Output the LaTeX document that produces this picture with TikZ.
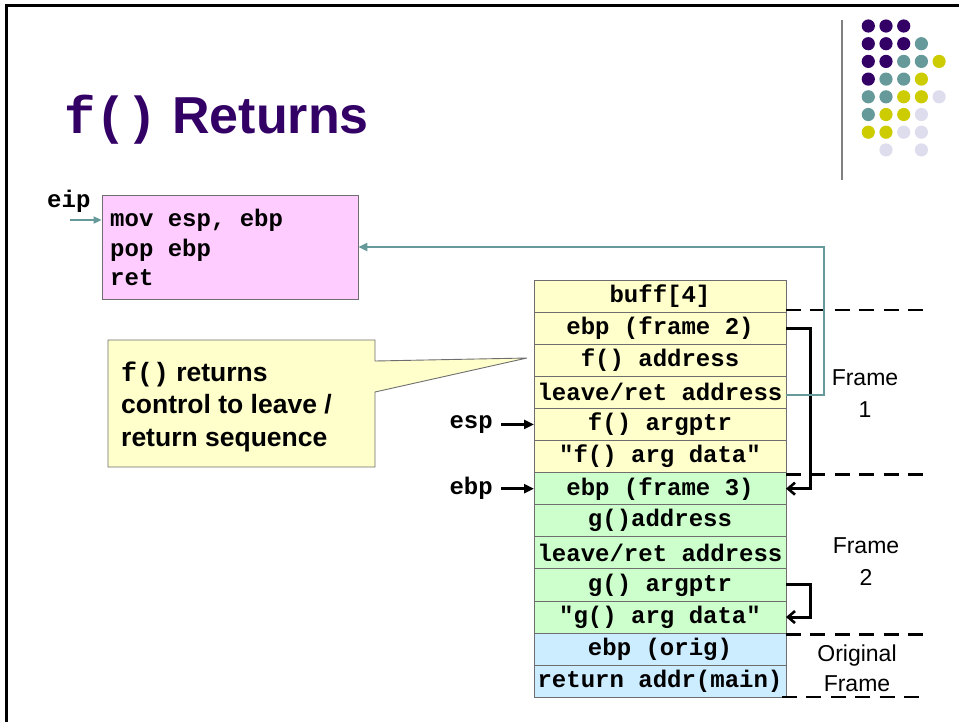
\documentclass[tikz,border=0pt]{standalone}
\usepackage{fontspec}
\setmainfont{Liberation Sans}
\setmonofont{Liberation Mono}
\usetikzlibrary{arrows.meta}
\definecolor{titlepurple}{HTML}{330066}
\definecolor{dotteal}{HTML}{669999}
\definecolor{dotyellow}{HTML}{CCCC00}
\definecolor{dotlav}{HTML}{DDDDEE}
\definecolor{codepink}{HTML}{FFCCFF}
\definecolor{rowyellow}{HTML}{FFFFCC}
\definecolor{rowgreen}{HTML}{CCFFCC}
\definecolor{rowblue}{HTML}{CCECFF}
\definecolor{edgegray}{HTML}{6E6E6E}
\begin{document}
\begin{tikzpicture}[x=1pt,y=-1pt,
  cell/.style={draw=edgegray, line width=0.9pt, minimum width=252pt, minimum height=32.1pt,
    inner sep=0pt, outer sep=0pt, font=\fontsize{24}{24}\selectfont\ttfamily\bfseries},
  lbl/.style={inner sep=0pt, font=\fontsize{24}{24}\selectfont\ttfamily\bfseries},
  framelbl/.style={align=center, inner sep=0pt, font=\fontsize{23}{32}\selectfont},
  notetxt/.style={anchor=base west, inner sep=0pt, font=\fontsize{26.5}{26.5}\selectfont\bfseries},
  blkarrow/.style={line width=3pt, -{Straight Barb[length=7pt,width=12pt,line width=2.6pt]}},
  ptrarrow/.style={line width=3pt, -{Triangle[length=10pt,width=9pt]}},
  tealarrow/.style={draw=dotteal, line width=2.2pt, -{Triangle[length=9pt,width=8pt]}},
  boundary/.style={line width=2.8pt, dash pattern=on 15pt off 9.4pt}
]
\useasboundingbox (0,0) rectangle (959,721);

% slide frame
\draw[line width=3pt] (6.5,730) -- (6.5,5.5) -- (970,5.5);

% decorative dot grid and rule
\draw[line width=2pt, gray] (841.5,20) -- (841.5,180);
\foreach \c/\r in {0/0,1/0,2/0,0/1,1/1,2/1,0/2,1/2,0/3}
  \fill[titlepurple] (868.3+17.7*\c, 26+17.7*\r) circle (6.6);
\foreach \c/\r in {3/1,2/2,3/2,1/3,2/3,0/4,1/4,0/5}
  \fill[dotteal] (868.3+17.7*\c, 26+17.7*\r) circle (6.6);
\foreach \c/\r in {4/2,3/3,2/4,3/4,1/5,2/5,0/6,1/6}
  \fill[dotyellow] (868.3+17.7*\c, 26+17.7*\r) circle (6.6);
\foreach \c/\r in {4/4,3/5,2/6,3/6,1/7,3/7}
  \fill[dotlav] (868.3+17.7*\c, 26+17.7*\r) circle (6.6);

% title
\node[anchor=base west, inner sep=0pt, text=titlepurple, font=\fontsize{52}{52}\selectfont\bfseries]
  (title) at (64,133) {{\ttfamily f()}\ Returns};

% code box
\node[draw=edgegray, fill=codepink, line width=0.9pt, minimum width=256pt, minimum height=104pt,
  inner sep=0pt] (code) at (230,247) {};
\node[anchor=north west, align=left, inner sep=0pt,
  font=\fontsize{24}{29.5}\selectfont\ttfamily\bfseries] (codetxt) at (110,209)
  {mov esp, ebp\\pop ebp\\ret};
\node[lbl, anchor=base west] (eip) at (47,207) {eip};
\coordinate (eipfrom) at (70,220);
\draw[draw=dotteal, line width=2.2pt, -{Triangle[length=8pt,width=7pt]}] (eipfrom) -- (code.west |- eipfrom);

% stack, top to bottom
\node[cell, fill=rowyellow] (r1)  at (660,296.05) {buff[4]};
\node[cell, fill=rowyellow] (r2)  at (660,328.15) {ebp (frame 2)};
\node[cell, fill=rowyellow] (r3)  at (660,360.25) {f() address};
\node[cell, fill=rowyellow] (r4)  at (660,392.35) {leave/ret address};
\node[cell, fill=rowyellow] (r5)  at (660,424.45) {f() argptr};
\node[cell, fill=rowyellow] (r6)  at (660,456.55) {"f() arg data"};
\node[cell, fill=rowgreen]  (r7)  at (660,488.65) {ebp (frame 3)};
\node[cell, fill=rowgreen]  (r8)  at (660,520.75) {g()address};
\node[cell, fill=rowgreen]  (r9)  at (660,552.85) {leave/ret address};
\node[cell, fill=rowgreen]  (r10) at (660,584.95) {g() argptr};
\node[cell, fill=rowgreen]  (r11) at (660,617.05) {"g() arg data"};
\node[cell, fill=rowblue]   (r12) at (660,649.15) {ebp (orig)};
\node[cell, fill=rowblue]   (r13) at (660,681.25) {return addr(main)};

% frame boundaries
\coordinate (b1) at (923,310);
\coordinate (bx) at (923,0);
\coordinate (b4) at (919,697);
\draw[boundary] (r1.east |- b1) -- (b1);
\draw[boundary] ([yshift=-1.5pt]r6.south east) -- ([yshift=-1.5pt]r6.south east -| bx);
\draw[boundary] ([yshift=-1.5pt]r11.south east) -- ([yshift=-1.5pt]r11.south east -| bx);
\draw[boundary] ([xshift=-4pt]r13.south east |- b4) -- (b4);

% frame labels
\node[framelbl] (f1) at (865,394) {Frame\\1};
\node[framelbl] (f2) at (866,562) {Frame\\2};
\node[framelbl, font=\fontsize{23}{30}\selectfont] (f0) at (857,668) {Original\\Frame};

% saved frame pointer links
\draw[blkarrow] (r2.east) -- ++(24,0) |- (r7.east);
\draw[blkarrow] (r10.east) -- ++(24,0) |- (r11.east);

% return address back to the leave/ret code
\draw[tealarrow] ([yshift=-3pt]r4.east) -- ++(38,0) |- (code.east);

% esp / ebp pointers
\node[lbl, anchor=east] (esp) at ([xshift=-41pt]r5.west) {esp};
\node[lbl, anchor=east] (ebp) at ([xshift=-41pt]r7.west) {ebp};
\draw[ptrarrow] ([xshift=8pt]esp.east) -- (r5.west);
\draw[ptrarrow] ([xshift=8pt]ebp.east) -- (r7.west);

% callout
\draw[draw=edgegray, fill=rowyellow, line width=0.9pt]
  (108,340) -- (375,340) -- (375,361) -- (527,358) -- (375,392) -- (375,467) -- (108,467) -- cycle;
\node[notetxt] (note1) at (121,381) {{\ttfamily f()} returns};
\node[notetxt] (note2) at (121,413.5) {control to leave /};
\node[notetxt] (note3) at (121,446) {return sequence};
\end{tikzpicture}
\end{document}
